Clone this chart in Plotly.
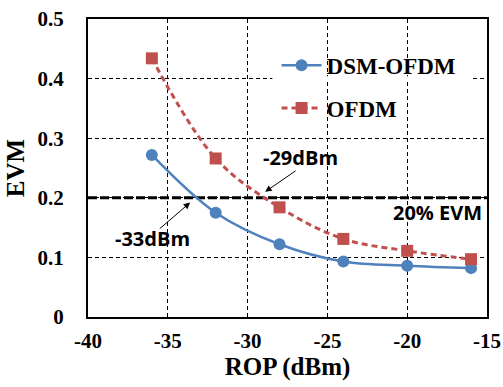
import plotly.graph_objects as go

rop = [-36, -32, -28, -24, -20, -16]
evm_dsm = [0.272, 0.175, 0.122, 0.093, 0.086, 0.082]
evm_ofdm = [0.434, 0.266, 0.184, 0.131, 0.111, 0.097]
threshold = 0.2
x_ticks = [-40, -35, -30, -25, -20, -15]
y_ticks = [0, 0.1, 0.2, 0.3, 0.4, 0.5]

SERIF = "Liberation Serif"
SANS = "Open Sans"
BLUE = "#4F81BD"
RED = "#C0504D"

fig = go.Figure()
fig.add_trace(go.Scatter(
    x=rop, y=evm_dsm, name="DSM-OFDM", mode="lines+markers",
    line=dict(color=BLUE, width=2.5, shape="spline", smoothing=1.0),
    marker=dict(symbol="circle", size=12, color=BLUE),
    legendgroup="a"))
fig.add_trace(go.Scatter(
    x=rop, y=evm_ofdm, name="OFDM", mode="lines+markers",
    line=dict(color=RED, width=3, dash="6px,4px", shape="spline", smoothing=1.0),
    marker=dict(symbol="square", size=12, color=RED),
    legendgroup="b"))

fig.add_shape(type="line", xref="paper", x0=0, x1=1, yref="y", y0=threshold, y1=threshold,
              line=dict(color="black", width=3, dash="9px,3px"), layer="between")
# mask grid line behind legend
fig.add_shape(type="rect", xref="x", x0=-28.45, x1=-15.95, yref="y", y0=0.396, y1=0.404,
              line=dict(width=0), fillcolor="white", layer="between")

annos = [
    dict(x=-28.9, y=0.21, ax=-26.9, ay=0.247),
    dict(x=-33.6, y=0.192, ax=-35.6, ay=0.146),
]
for a in annos:
    fig.add_annotation(x=a["x"], y=a["y"], ax=a["ax"], ay=a["ay"], xref="x", yref="y",
                       axref="x", ayref="y", text="", showarrow=True,
                       arrowhead=2, arrowsize=1.3, arrowwidth=1, arrowcolor="black")
texts = [
    dict(x=-26.66, y=0.268, t="-29dBm"),
    dict(x=-35.97, y=0.1325, t="-33dBm"),
    dict(x=-18.1, y=0.176, t="20% EVM"),
]
for t in texts:
    fig.add_annotation(x=t["x"], y=t["y"], xref="x", yref="y", text=t["t"], showarrow=False,
                       font=dict(family=SANS, size=20, color="black", weight="bold"))

fig.update_layout(
    width=503, height=387,
    margin=dict(l=88, r=16, t=19, b=70, autoexpand=False),
    paper_bgcolor="white", plot_bgcolor="white",
    font=dict(family=SERIF, color="black", size=18),
    showlegend=True,
    legend=dict(x=0.4725, y=0.917, xanchor="left", yanchor="top",
                bgcolor="rgba(0,0,0,0)", font=dict(family=SERIF, size=23, weight="bold"),
                tracegroupgap=10, traceorder="grouped", itemwidth=40),
    xaxis=dict(range=[-40, -15], tickvals=x_ticks, ticktext=[str(v) for v in x_ticks],
               showgrid=True, gridcolor="black", griddash="4px,3px", gridwidth=1,
               showline=True, linecolor="black", linewidth=2, mirror=True, ticks="",
               zeroline=False, ticklabelstandoff=4, automargin=False,
               tickfont=dict(family=SERIF, size=21, weight="bold"),
               title=dict(text="ROP (dBm)", font=dict(family=SERIF, size=25, weight="bold"), standoff=4)),
    yaxis=dict(range=[0, 0.5], tickvals=y_ticks, ticktext=["0", "0.1", "0.2", "0.3", "0.4", "0.5"],
               showgrid=True, gridcolor="black", griddash="4px,3px", gridwidth=1,
               showline=True, linecolor="black", linewidth=2, mirror=True, ticks="",
               zeroline=False, ticklabelstandoff=18, automargin=False,
               tickfont=dict(family=SERIF, size=21, weight="bold"),
               title=dict(text="EVM", font=dict(family=SERIF, size=25, weight="bold"), standoff=6)),
)

fig.write_html("out.html", config={"displayModeBar": False},
               post_script="document.body.style.margin='0';document.body.style.padding='0';document.body.style.overflow='hidden';")
